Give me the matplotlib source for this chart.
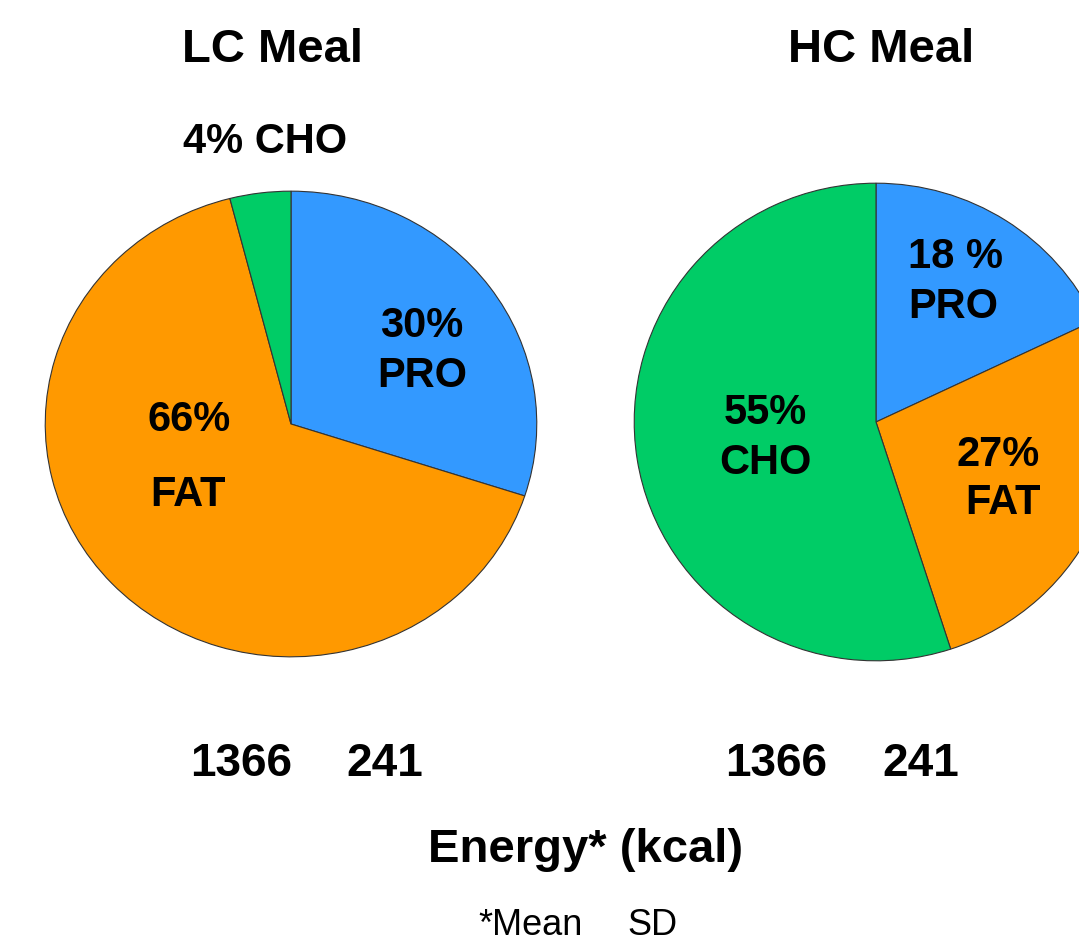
import matplotlib
matplotlib.use('Agg')
import matplotlib.pyplot as plt

# Энергетический состав двух приёмов пищи (% энергии)
nutrients = ['PRO', 'FAT', 'CHO']
colors = ['#3399FF', '#FF9900', '#00CC66']
lc_values = [30, 66, 4]
hc_values = [18, 27, 55]
meal_titles = ['LC Meal', 'HC Meal']
energy_mean = [1366, 1366]
energy_sd = [241, 241]

W, H = 1079, 943
plt.rcParams['font.family'] = ['Liberation Sans', 'DejaVu Sans']

fig = plt.figure(figsize=(W / 100, H / 100), dpi=100)


def px_axes(x0, y0, x1, y1):
    # оси по пиксельным координатам (y сверху вниз)
    return fig.add_axes([x0 / W, 1 - y1 / H, (x1 - x0) / W, (y1 - y0) / H])


def txt(x, y, s, size=30, weight='bold'):
    fig.text(x / W, 1 - y / H, s, ha='center', va='baseline',
             fontsize=size, fontweight=weight)


ax_lc = px_axes(44, 190, 538, 658)
ax_hc = px_axes(633, 182, 1119, 662)

for ax, vals in [(ax_lc, lc_values), (ax_hc, hc_values)]:
    ax.pie(vals, colors=colors, startangle=90, counterclock=False, radius=1,
           wedgeprops=dict(edgecolor='#333333', linewidth=0.8))
    ax.set_aspect('auto')
    ax.set_xlim(-1.005, 1.005)
    ax.set_ylim(-1.005, 1.005)
    ax.axis('off')

# Заголовки
txt(273, 62, meal_titles[0], size=34)
txt(881, 62, meal_titles[1], size=34)

# Подписи долей, LC
txt(265, 153, f'{lc_values[2]}% {nutrients[2]}')
txt(422, 337, f'{lc_values[0]}%')
txt(422, 387, nutrients[0])
txt(189, 431, f'{lc_values[1]}%')
txt(188, 506, nutrients[1])

# Подписи долей, HC
txt(955, 268, f'{hc_values[0]} %')
txt(953, 318, nutrients[0])
txt(765, 424, f'{hc_values[2]}%')
txt(765, 474, nutrients[2])
txt(998, 466, f'{hc_values[1]}%')
txt(1003, 514, nutrients[1])

# Энергия (среднее и SD)
txt(241, 776, str(energy_mean[0]), size=33)
txt(385, 776, str(energy_sd[0]), size=33)
txt(776, 776, str(energy_mean[1]), size=33)
txt(921, 776, str(energy_sd[1]), size=33)

txt(586, 862, 'Energy* (kcal)', size=34)
txt(531, 935, '*Mean', size=26, weight='normal')
txt(652, 935, 'SD', size=26, weight='normal')

plt.savefig('out.png', dpi=100)
